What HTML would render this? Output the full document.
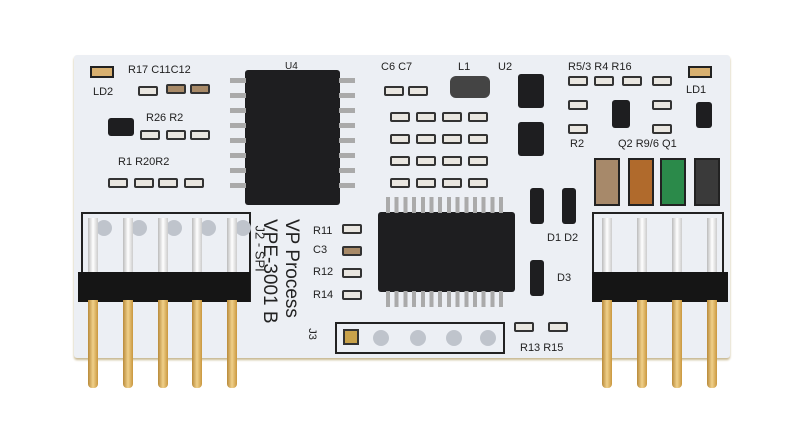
<!DOCTYPE html>
<html><head><style>
body{margin:0;width:800px;height:448px;background:#fff;position:relative;overflow:hidden;font-family:"Liberation Sans",sans-serif}
div{position:absolute;box-sizing:border-box}
.board{left:74px;top:55px;width:656px;height:303px;background:#eceff4;border-radius:3px;box-shadow:0 2px 2px #c8b890}
.chip{background:#1e1e20;border-radius:3px}
.r{width:20px;height:10px;background:#e9e6e0;border:2px solid #333;border-radius:2px}
.t{font-size:11px;color:#222}
.pin{width:10px;background:linear-gradient(90deg,#b88a3a,#f0d08a,#c9973e);border-radius:0 0 4px 4px}
.pinw{width:10px;background:linear-gradient(90deg,#bbb,#fff,#ccc)}
.blk{background:#151515;height:30px;width:36px}
.hole{width:16px;height:16px;border-radius:50%;background:#bfc4cc}
</style></head><body>
<div class="board"></div>
<div class="chip" style="left:245px;top:70px;width:95px;height:135px"></div>
<div class="t" style="left:285px;top:61px;font-size:10px">U4</div>
<div style="left:230px;top:78px;width:16px;height:120px;background:repeating-linear-gradient(#aaa 0 5px,transparent 5px 15px)"></div>
<div style="left:339px;top:78px;width:16px;height:120px;background:repeating-linear-gradient(#aaa 0 5px,transparent 5px 15px)"></div>
<div class="chip" style="left:378px;top:212px;width:137px;height:80px"></div>
<div style="left:386px;top:197px;width:122px;height:16px;background:repeating-linear-gradient(90deg,#aaa 0 4px,transparent 4px 8.7px)"></div>
<div style="left:386px;top:291px;width:122px;height:16px;background:repeating-linear-gradient(90deg,#aaa 0 4px,transparent 4px 8.7px)"></div>
<div class="chip" style="left:108px;top:118px;width:26px;height:18px"></div>
<div class="chip" style="left:518px;top:74px;width:26px;height:34px"></div>
<div class="chip" style="left:518px;top:122px;width:26px;height:34px"></div>
<div class="chip" style="left:612px;top:100px;width:18px;height:28px"></div>
<div class="chip" style="left:696px;top:102px;width:16px;height:26px"></div>
<div class="chip" style="left:450px;top:76px;width:40px;height:22px;background:#444;border-radius:6px"></div>
<div class="chip" style="left:530px;top:188px;width:14px;height:36px"></div>
<div class="chip" style="left:562px;top:188px;width:14px;height:36px"></div>
<div class="chip" style="left:530px;top:260px;width:14px;height:36px"></div>
<div style="left:594px;top:158px;width:26px;height:48px;background:#a7896a;border:2px solid #222"></div>
<div style="left:628px;top:158px;width:26px;height:48px;background:#b06a2c;border:2px solid #222"></div>
<div style="left:660px;top:158px;width:26px;height:48px;background:#2b8a4a;border:2px solid #222"></div>
<div style="left:694px;top:158px;width:26px;height:48px;background:#3a3a3a;border:2px solid #222"></div>
<div style="left:90px;top:66px;width:24px;height:12px;border:2px solid #222;background:#d8b070"></div>
<div style="left:688px;top:66px;width:24px;height:12px;border:2px solid #222;background:#d8b070"></div>
<div class="r" style="left:138px;top:86px"></div><div class="r" style="left:166px;top:84px;background:#a88a68"></div><div class="r" style="left:190px;top:84px;background:#a88a68"></div>
<div class="r" style="left:140px;top:130px"></div><div class="r" style="left:166px;top:130px"></div><div class="r" style="left:190px;top:130px"></div>
<div class="r" style="left:108px;top:178px"></div><div class="r" style="left:134px;top:178px"></div><div class="r" style="left:158px;top:178px"></div><div class="r" style="left:184px;top:178px"></div>
<div class="r" style="left:384px;top:86px"></div><div class="r" style="left:408px;top:86px"></div>
<div class="r" style="left:390px;top:112px"></div><div class="r" style="left:416px;top:112px"></div><div class="r" style="left:442px;top:112px"></div><div class="r" style="left:468px;top:112px"></div>
<div class="r" style="left:390px;top:134px"></div><div class="r" style="left:416px;top:134px"></div><div class="r" style="left:442px;top:134px"></div><div class="r" style="left:468px;top:134px"></div>
<div class="r" style="left:390px;top:156px"></div><div class="r" style="left:416px;top:156px"></div><div class="r" style="left:442px;top:156px"></div><div class="r" style="left:468px;top:156px"></div>
<div class="r" style="left:390px;top:178px"></div><div class="r" style="left:416px;top:178px"></div><div class="r" style="left:442px;top:178px"></div><div class="r" style="left:468px;top:178px"></div>
<div class="r" style="left:568px;top:76px"></div><div class="r" style="left:594px;top:76px"></div><div class="r" style="left:622px;top:76px"></div><div class="r" style="left:652px;top:76px"></div>
<div class="r" style="left:568px;top:100px"></div><div class="r" style="left:652px;top:100px"></div>
<div class="r" style="left:568px;top:124px"></div><div class="r" style="left:652px;top:124px"></div>
<div class="r" style="left:342px;top:224px"></div><div class="r" style="left:342px;top:246px;background:#a88a68"></div><div class="r" style="left:342px;top:268px"></div><div class="r" style="left:342px;top:290px"></div>
<div class="r" style="left:514px;top:322px"></div><div class="r" style="left:548px;top:322px"></div>
<div class="t" style="left:93px;top:86px">LD2</div><div class="t" style="left:128px;top:64px">R17 C11C12</div>
<div class="t" style="left:146px;top:112px">R26 R2</div><div class="t" style="left:118px;top:156px">R1 R20R2</div>
<div class="t" style="left:381px;top:61px">C6 C7</div><div class="t" style="left:458px;top:61px">L1</div><div class="t" style="left:498px;top:61px">U2</div>
<div class="t" style="left:568px;top:61px">R5/3 R4 R16</div><div class="t" style="left:686px;top:84px">LD1</div>
<div class="t" style="left:618px;top:138px">Q2 R9/6 Q1</div><div class="t" style="left:570px;top:138px">R2</div>
<div class="t" style="left:313px;top:225px">R11</div><div class="t" style="left:313px;top:244px">C3</div><div class="t" style="left:313px;top:266px">R12</div><div class="t" style="left:313px;top:289px">R14</div>
<div class="t" style="left:520px;top:342px">R13 R15</div>
<div class="t" style="left:547px;top:232px">D1 D2</div><div class="t" style="left:557px;top:272px">D3</div>
<div style="left:335px;top:322px;width:170px;height:32px;border:2px solid #222"></div>
<div style="left:343px;top:329px;width:16px;height:16px;background:#c9a24a;border:2px solid #333"></div>
<div class="hole" style="left:373px;top:330px"></div><div class="hole" style="left:410px;top:330px"></div><div class="hole" style="left:446px;top:330px"></div><div class="hole" style="left:480px;top:330px"></div>
<div class="t" style="left:306px;top:328px;transform:rotate(90deg)">J3</div>
<div style="left:200px;top:277px;width:160px;font-size:19px;color:#222;transform:rotate(90deg);line-height:22px;white-space:nowrap">VP Process<br>VPE-3001 B</div>
<div class="t" style="left:230px;top:248px;width:60px;transform:rotate(90deg);font-size:13px;white-space:nowrap">J2 - SPI</div>
<div style="left:81px;top:212px;width:170px;height:90px;border:2px solid #222"></div>
<div style="left:592px;top:212px;width:132px;height:90px;border:2px solid #222"></div>
<div class="hole" style="left:96px;top:220px"></div><div class="hole" style="left:131px;top:220px"></div><div class="hole" style="left:166px;top:220px"></div><div class="hole" style="left:200px;top:220px"></div><div class="hole" style="left:235px;top:220px"></div>
<div class="pinw" style="left:88px;top:218px;height:60px"></div><div class="pinw" style="left:123px;top:218px;height:60px"></div><div class="pinw" style="left:158px;top:218px;height:60px"></div><div class="pinw" style="left:192px;top:218px;height:60px"></div><div class="pinw" style="left:227px;top:218px;height:60px"></div>
<div class="blk" style="left:78px;top:272px;width:172px"></div>
<div class="pin" style="left:88px;top:300px;height:88px"></div><div class="pin" style="left:123px;top:300px;height:88px"></div><div class="pin" style="left:158px;top:300px;height:88px"></div><div class="pin" style="left:192px;top:300px;height:88px"></div><div class="pin" style="left:227px;top:300px;height:88px"></div>
<div class="pinw" style="left:602px;top:218px;height:60px"></div><div class="pinw" style="left:637px;top:218px;height:60px"></div><div class="pinw" style="left:672px;top:218px;height:60px"></div><div class="pinw" style="left:707px;top:218px;height:60px"></div>
<div class="blk" style="left:592px;top:272px;width:136px"></div>
<div class="pin" style="left:602px;top:300px;height:88px"></div><div class="pin" style="left:637px;top:300px;height:88px"></div><div class="pin" style="left:672px;top:300px;height:88px"></div><div class="pin" style="left:707px;top:300px;height:88px"></div>
</body></html>
